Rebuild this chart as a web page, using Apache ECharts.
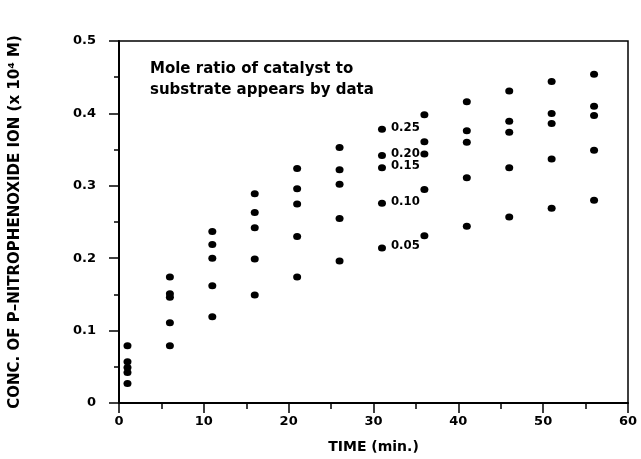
<!DOCTYPE html>
<html>
<head>
<meta charset="utf-8">
<script src="https://cdn.jsdelivr.net/npm/echarts@6/dist/echarts.min.js"></script>
<style>
  html, body { margin: 0; padding: 0; background: #fff; }
  #chart { width: 641px; height: 459px; }
</style>
</head>
<body>
<div id="chart"></div>
<script>
// time points (min.)
const times = [1, 6, 11, 16, 21, 26, 31, 36, 41, 46, 51, 56];

// mole ratio of catalyst to substrate, one series each
const ratios = ["0.25", "0.20", "0.15", "0.10", "0.05"];

// conc. of p-nitrophenoxide ion (x 10^4 M)
const conc025 = [0.079, 0.174, 0.237, 0.289, 0.324, 0.353, 0.378, 0.398, 0.416, 0.431, 0.444, 0.454];
const conc020 = [0.057, 0.151, 0.219, 0.263, 0.296, 0.322, 0.342, 0.361, 0.376, 0.389, 0.400, 0.410];
const conc015 = [0.049, 0.146, 0.200, 0.242, 0.275, 0.302, 0.325, 0.344, 0.360, 0.374, 0.386, 0.397];
const conc010 = [0.042, 0.111, 0.162, 0.199, 0.230, 0.255, 0.276, 0.295, 0.311, 0.325, 0.337, 0.349];
const conc005 = [0.027, 0.079, 0.119, 0.149, 0.174, 0.196, 0.214, 0.231, 0.244, 0.257, 0.269, 0.280];

const allConc = [conc025, conc020, conc015, conc010, conc005];

// ratio labels sit next to the points at this time
const labelAt = 31;

const chart = echarts.init(document.getElementById("chart"));

const axisFont = { color: "#000", fontFamily: "DejaVu Sans", fontWeight: "bold", fontSize: 13 };

const series = ratios.map((r, i) => ({
  name: r,
  type: "scatter",
  symbol: "circle",
  symbolSize: [8, 7],
  itemStyle: { color: "#000", opacity: 1 },
  data: times.map((t, j) => {
    const item = { value: [t, allConc[i][j]] };
    if (t === labelAt) {
      item.label = {
        show: true,
        position: "right",
        distance: 5,
        offset: [0, -2],
        formatter: "{a}",
        color: "#000",
        fontFamily: "DejaVu Sans Condensed",
        fontWeight: "bold",
        fontSize: 13,
      };
    }
    return item;
  }),
}));

chart.setOption({
  animation: false,
  backgroundColor: "#fff",
  grid: {
    left: 113, right: 13, top: 41, bottom: 55,
    show: true,
    borderColor: "#000",
    borderWidth: 1.5,
  },
  xAxis: {
    type: "value",
    min: 0, max: 60, interval: 10,
    name: "TIME (min.)",
    nameLocation: "middle",
    nameGap: 37,
    nameTextStyle: Object.assign({}, axisFont, { fontSize: 14 }),
    axisLine: { show: true, lineStyle: { color: "#000", width: 2 } },
    axisTick: { show: true, inside: false, length: 10, lineStyle: { color: "#000", width: 1.5 } },
    minorTick: { show: true, splitNumber: 2, length: 6, lineStyle: { color: "#000", width: 1.5 } },
    axisLabel: Object.assign({ margin: 12 }, axisFont),
    splitLine: { show: false },
  },
  yAxis: {
    type: "value",
    min: 0, max: 0.5, interval: 0.1,
    name: "CONC. OF P\u2013NITROPHENOXIDE ION (x 10\u2074 M)",
    nameLocation: "middle",
    nameGap: 96,
    nameRotate: 90,
    nameTextStyle: Object.assign({}, axisFont, { fontSize: 15 }),
    axisLine: { show: true, lineStyle: { color: "#000", width: 2 } },
    axisTick: { show: true, inside: false, length: 10, lineStyle: { color: "#000", width: 1.5 } },
    minorTick: { show: true, splitNumber: 2, length: 5, lineStyle: { color: "#000", width: 1.5 } },
    axisLabel: Object.assign({ margin: 23 }, axisFont),
    splitLine: { show: false },
  },
  graphic: [{
    type: "text",
    left: 150,
    top: 59,
    style: {
      text: "Mole ratio of catalyst to\nsubstrate appears by data",
      font: "bold 15px 'DejaVu Sans'",
      lineHeight: 21,
      fill: "#000",
    },
  }],
  series: series,
});
</script>
</body>
</html>
